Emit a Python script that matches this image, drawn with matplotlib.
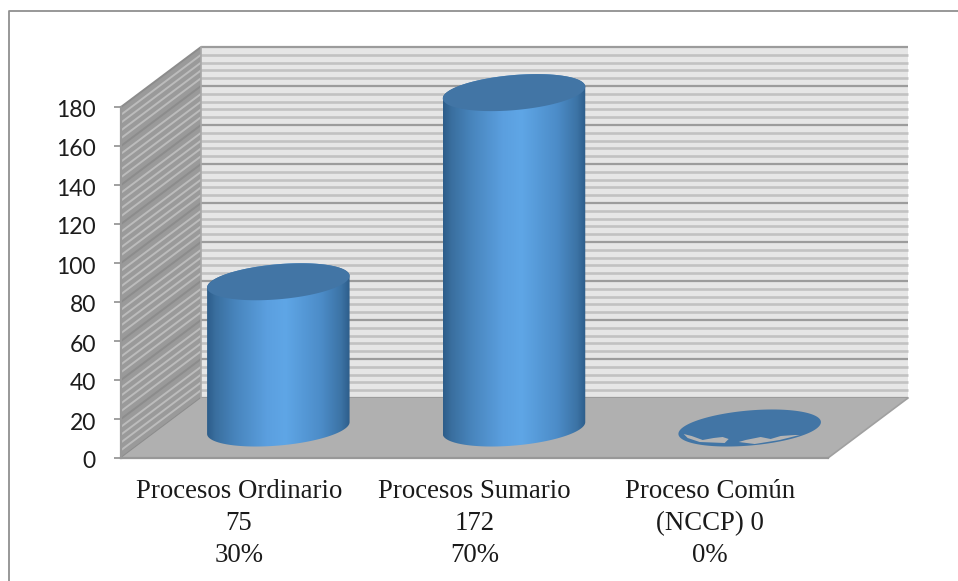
import numpy as np
import matplotlib
matplotlib.use("Agg")
import matplotlib.pyplot as plt
from matplotlib.lines import Line2D
from matplotlib.patches import Polygon
from matplotlib.colors import LinearSegmentedColormap
from matplotlib.transforms import ScaledTranslation

categories = ["Procesos Ordinario\n75\n30%", "Procesos Sumario\n172\n70%", "Proceso Común\n(NCCP) 0\n0%"]
values = [75, 172, 0]
y_ticks = [0, 20, 40, 60, 80, 100, 120, 140, 160, 180]
minor_ticks = [v for v in range(0, 181, 4) if v % 20]

W, H = 958, 581
fig = plt.figure(figsize=(W / 100, H / 100), dpi=100, facecolor="white")
L, R, B, T = 121, 828, 458, 107
ax = fig.add_axes([L / W, 1 - B / H, (R - L) / W, (B - T) / H])
ax.set_xlim(0, 3)
ax.set_ylim(0, 180)
ax.patch.set_visible(False)
PX = 3 / (R - L)
PY = 180 / (B - T)
DX, DY = 80 * PX, 60 * PY      # depth of the 3-D box


def poly(pts, **kw):
    p = Polygon(pts, closed=True, clip_on=False, **kw)
    ax.add_patch(p)
    return p


# walls and floor
poly([(DX, DY), (3 + DX, DY), (3 + DX, 180 + DY), (DX, 180 + DY)], fc="#e6e6e6", ec="none", zorder=1)
poly([(0, 0), (DX, DY), (DX, 180 + DY), (0, 180)], fc="#9a9a9a", ec="none", zorder=1)
poly([(0, 0), (3, 0), (3 + DX, DY), (DX, DY)], fc="#b0b0b0", ec="none", zorder=1.5)

for v in minor_ticks:
    ax.plot([DX, 3 + DX], [v + DY] * 2, color="#c2c2c2", lw=1.9, clip_on=False, zorder=1.2, solid_capstyle="butt")
    ax.plot([0, DX], [v, v + DY], color="#bcbcbc", lw=1.4, clip_on=False, zorder=1.2, solid_capstyle="butt")
for v in y_ticks:
    ax.plot([DX, 3 + DX], [v + DY] * 2, color="#9c9c9c", lw=1.6, clip_on=False, zorder=1.3, solid_capstyle="butt")
    ax.plot([0, DX], [v, v + DY], color="#8c8c8c", lw=1.4, clip_on=False, zorder=1.3, solid_capstyle="butt")
ax.plot([DX, DX], [DY, 180 + DY], color="#a8a8a8", lw=1.2, clip_on=False, zorder=1.3)
ax.plot([3, 3 + DX], [0, DY], color="#a0a0a0", lw=1.2, clip_on=False, zorder=1.6)

# cylinders
A, Bm, THETA = 71.5, 17.5, np.deg2rad(5)
N = 360
t = np.linspace(0, 2 * np.pi, N + 1)[:-1]
ex = (A * np.cos(t) * np.cos(THETA) - Bm * np.sin(t) * np.sin(THETA)) * PX
ey = (A * np.cos(t) * np.sin(THETA) + Bm * np.sin(t) * np.cos(THETA)) * PY
il, ir = int(np.argmin(ex)), int(np.argmax(ex))
# arc from leftmost through the bottom to rightmost, then on over the top
low = np.arange(il, il + (ir - il) % N + 1) % N
high = np.arange(ir, ir + (il - ir) % N + 1) % N
grad = LinearSegmentedColormap.from_list(
    "cyl", [(0, "#2d5d8a"), (0.06, "#3a6f9f"), (0.2, "#4885bd"), (0.42, "#5b9fdf"),
            (0.55, "#5fa6e6"), (0.8, "#4c8cc8"), (0.94, "#3c73a5"), (1, "#2d5d8a")])
g = np.linspace(0, 1, 256)[None, :]
TOP = "#4275a5"

for i, v in enumerate(values):
    cx = i + 0.5 + DX / 2 - 0.5 * PX
    base = DY / 2
    if v > 0:
        pts = np.vstack([np.c_[cx + ex[low], base + ey[low]],
                         np.c_[cx + ex[high], base + v + ey[high]]])
        clip = Polygon(pts, closed=True, transform=ax.transData, fc="none", ec="none", clip_on=False)
        ax.add_patch(clip)
        im = ax.imshow(g, cmap=grad, aspect="auto", zorder=3, interpolation="bilinear",
                       extent=[cx + ex.min(), cx + ex.max(), base + ey.min(), base + v + ey.max()])
        im.set_clip_box(fig.bbox)
        im.set_clip_path(clip)
    poly(np.c_[cx + ex, base + v + ey], fc=TOP, ec="none", zorder=4)
    if v == 0:
        # speckled rim visible on the flat, zero-height cylinder
        rim = np.array([[-66, 6], [-58, 8], [-47, 12], [-36, 10], [-27, 9], [-21, 11], [-25, 15], [-50, 14], [-62, 10]])
        rim2 = np.array([[-11, 14], [-4, 12], [11, 9], [21, 11], [31, 8], [45, 7], [50, 7], [30, 12], [5, 16]])
        for r in (rim, rim2):
            poly(np.c_[cx + r[:, 0] * PX, base - r[:, 1] * PY], fc="#b4b4b4", ec="none", zorder=5)

ax.set_xlim(0, 3)
ax.set_ylim(0, 180)

# axes, ticks, labels
for s in ("top", "right"):
    ax.spines[s].set_visible(False)
for s in ("left", "bottom"):
    ax.spines[s].set_color("#989898")
    ax.spines[s].set_linewidth(1.6)
    ax.spines[s].set_zorder(2)
ax.set_yticks(y_ticks)
ax.set_yticklabels([str(v) for v in y_ticks], fontfamily="Lato", fontsize=16.5, color="#1c1c1c")
ax.tick_params(axis="y", length=5, width=1.3, color="#989898", pad=13)
down = ScaledTranslation(0, -2 / 100, fig.dpi_scale_trans)
for lab in ax.get_yticklabels():
    lab.set_transform(lab.get_transform() + down)
ax.set_xticks([0.5, 1.5, 2.5])
ax.set_xticklabels(categories, fontfamily="Liberation Serif", fontsize=19.3, color="#1a1a1a", linespacing=1.36)
ax.tick_params(axis="x", length=0, pad=15)

# outer chart border (cropped on the right and bottom)
fig.add_artist(Line2D([8.5 / W, 8.5 / W, 1], [0, 1 - 11 / H, 1 - 11 / H], color="#909090", lw=1.3))

fig.savefig("out.png", dpi=100, facecolor="white")
